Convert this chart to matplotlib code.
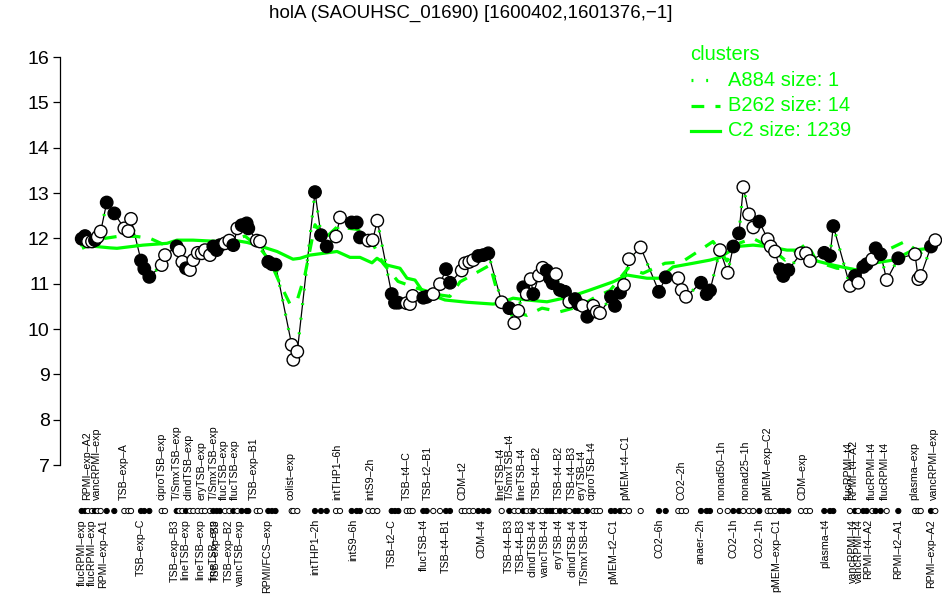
import matplotlib
matplotlib.use('Agg')
import matplotlib.pyplot as plt
from matplotlib.lines import Line2D
import matplotlib.transforms as mtransforms

plt.rcParams['font.family'] = ['Liberation Sans', 'DejaVu Sans']

GREEN = '#00ff00'
W, H = 942, 595

# ---- gene expression profile (position on condition axis, log2 expression, filled marker?) ----
pos = [81.7, 85, 88, 92, 95, 97.7, 100.7, 106.7, 114.3, 124.3, 128.3, 131, 141, 144.3, 149.3,
       161.7, 165, 176.7, 179.3, 182.3, 186, 190, 193.3, 197.7, 201.7, 205, 210, 213.3, 216.7,
       220, 225, 229.3, 233.3, 237.3, 241.7, 246.7, 248.3, 256.7, 260, 268.3, 272, 275.5,
       291.7, 293.3, 297.3, 315, 321, 326.7, 336, 340, 351.7, 356.7, 360, 368.3, 372.7, 377.3,
       391.7, 395, 398.3, 406.7, 410, 412.7, 423.3, 426.7, 433.3, 440, 446, 450, 461.7, 465,
       469.3, 473.3, 478.3, 483.3, 488.3, 501.7, 509.3, 514.3, 518.3, 523.3, 526.7, 530.7,
       533.3, 539, 542.7, 546.7, 550, 552.7, 556, 560, 565, 569.3, 575, 578.3, 582.7, 587.3,
       593.3, 596.7, 600, 611, 615, 620, 624, 629, 640.7, 659, 665.7, 678.3, 681.7, 686, 701,
       706.7, 710, 720, 727.7, 733.3, 739, 743.3, 749, 753.3, 759.3, 767.7, 770.7, 775, 780,
       783.3, 788.3, 801, 806, 810, 824.3, 830, 833.3, 850, 855, 858.3, 863.3, 866.7, 872.3,
       875.7, 880.7, 886.7, 898.3, 915, 918.3, 920.7, 931, 935.3]
expr = [11.99, 12.05, 11.93, 11.93, 11.96, 12.03, 12.15, 12.79, 12.55, 12.22, 12.16, 12.43, 11.51,
        11.33, 11.15, 11.41, 11.63, 11.82, 11.73, 11.48, 11.34, 11.30, 11.52, 11.68, 11.67,
        11.74, 11.63, 11.82, 11.74, 11.85, 11.89, 11.95, 11.85, 12.22, 12.29, 12.33, 12.22,
        11.95, 11.93, 11.48, 11.43, 11.42, 9.65, 9.32, 9.50, 13.02, 12.07, 11.82, 12.04, 12.46,
        12.35, 12.35, 12.02, 11.95, 11.96, 12.39, 10.77, 10.58, 10.58, 10.57, 10.55, 10.73,
        10.69, 10.71, 10.77, 10.99, 11.32, 11.02, 11.29, 11.45, 11.48, 11.52, 11.61, 11.63,
        11.67, 10.59, 10.46, 10.13, 10.40, 10.92, 10.77, 11.10, 10.77, 11.18, 11.35, 11.29,
        11.12, 11.01, 11.21, 10.86, 10.82, 10.60, 10.66, 10.55, 10.51, 10.27, 10.51, 10.38,
        10.35, 10.71, 10.51, 10.80, 10.97, 11.54, 11.80, 10.82, 11.14, 11.12, 10.86, 10.71,
        11.02, 10.77, 10.85, 11.74, 11.24, 11.82, 12.11, 13.13, 12.53, 12.24, 12.37, 11.98,
        11.82, 11.71, 11.32, 11.17, 11.30, 11.67, 11.67, 11.50, 11.68, 11.61, 12.27, 10.95,
        11.17, 11.02, 11.37, 11.43, 11.54, 11.78, 11.65, 11.08, 11.56, 11.65, 11.10, 11.17,
        11.82, 11.96]
filled = [1, 1, 0, 0, 1, 0, 0, 1, 1, 0, 0, 0, 1, 1, 1, 0, 0, 1, 0, 0, 1, 0, 0, 0, 0, 0, 0, 1, 1,
          1, 0, 0, 1, 0, 1, 1, 1, 0, 0, 1, 1, 1, 0, 0, 0, 1, 1, 1, 0, 0, 1, 1, 1, 0, 0, 0,
          1, 1, 1, 0, 0, 0, 1, 1, 0, 0, 1, 1, 0, 0, 0, 0, 1, 1, 1, 0, 1, 0, 0, 1, 0, 0,
          1, 0, 0, 1, 1, 1, 0, 1, 1, 0, 1, 1, 0, 1, 0, 0, 0, 1, 1, 1, 0, 0, 0, 1, 1, 0, 0, 0, 1,
          1, 1, 0, 0, 1, 1, 0, 0, 0, 1, 0, 0, 0, 1, 1, 1, 0, 0, 0, 1, 1, 1, 0, 1, 0, 1, 1, 0,
          1, 1, 0, 1, 0, 0, 0, 1, 0]

# ---- cluster mean profiles ----
c2_pos = [82, 110, 117, 143, 167, 177, 193, 220, 233, 247, 260, 277, 293, 300, 310, 337, 350,
          360, 372, 377, 387, 400, 407, 415, 423, 445, 467, 493, 500, 513, 527, 547, 570, 590,
          613, 627, 647, 660, 673, 693, 710, 720, 737, 753, 767, 787, 800, 813, 833, 857, 873,
          893, 913, 930, 935]
c2_val = [11.85, 11.79, 11.78, 11.85, 11.89, 11.96, 11.96, 11.93, 11.96, 11.91, 11.83, 11.71,
          11.54, 11.56, 11.63, 11.71, 11.58, 11.58, 11.46, 11.56, 11.41, 11.34, 11.12, 11.08,
          10.82, 10.64, 10.59, 10.55, 10.57, 10.68, 10.64, 10.60, 10.71, 10.86, 11.04, 11.19,
          11.12, 11.12, 11.37, 11.45, 11.52, 11.58, 11.82, 11.85, 11.82, 11.74, 11.74, 11.52,
          11.41, 11.30, 11.45, 11.52, 11.74, 11.78, 11.90]
b262_pos = [82, 95, 105, 120, 137, 150, 165, 180, 200, 215, 230, 245, 260, 270, 280, 290, 297,
            305, 315, 325, 337, 357, 370, 383, 398, 417, 440, 450, 460, 473, 490, 500, 510, 527,
            542, 560, 580, 595, 610, 628, 643, 665, 682, 698, 713, 727, 740, 753, 770, 785, 807,
            817, 837, 860, 887, 905, 920, 933]
b262_val = [11.78, 11.90, 12.00, 12.05, 12.04, 12.00, 11.85, 11.75, 11.72, 11.85, 11.95, 12.05,
            11.78, 11.50, 11.00, 10.55, 10.62, 11.20, 12.30, 12.00, 12.25, 12.20, 12.00, 11.45,
            11.05, 10.90, 10.75, 10.72, 11.04, 11.20, 11.41, 10.60, 10.40, 10.30, 10.46, 10.38,
            10.50, 10.70, 10.85, 11.34, 11.23, 11.45, 11.48, 11.71, 11.93, 11.50, 11.90, 12.00,
            11.80, 11.52, 11.89, 11.48, 11.34, 11.30, 11.74, 11.93, 11.67, 11.82]

# ---- condition labels ----
top_labels = ['RPMI\u2013exp\u2013A2', 'vancRPMI\u2013exp', 'TSB\u2013exp\u2013A', 'ciproTSB\u2013exp',
              'T/SmxTSB\u2013exp', 'clindTSB\u2013exp', 'eryTSB\u2013exp', 'T/SmxTSB\u2013exp',
              'flucTSB\u2013exp', 'flucTSB\u2013exp', 'TSB\u2013exp\u2013B1', 'colist\u2013exp',
              'intTHP1\u20136h', 'intS9\u20132h', 'TSB\u2013t4\u2013C', 'TSB\u2013t2\u2013B1', 'CDM\u2013t2',
              'lineTSB\u2013t4', 'T/SmxTSB\u2013t4', 'lineTSB\u2013t4', 'TSB\u2013t4\u2013B2',
              'TSB\u2013t4\u2013B2', 'TSB\u2013t4\u2013B3', 'eryTSB\u2013t4', 'ciproTSB\u2013t4',
              'pMEM\u2013t4\u2013C1', 'CO2\u20132h', 'nonad50\u20131h', 'nonad25\u20131h',
              'pMEM\u2013exp\u2013C2', 'CDM\u2013exp', 'flucRPMI\u2013t4', 'RPMI\u2013t4\u2013A2',
              'flucRPMI\u2013t4', 'flucRPMI\u2013t4', 'plasma\u2013exp', 'vancRPMI\u2013exp']
top_pos = [87, 97, 124, 161.7, 176.7, 188.3, 201.7, 213.3, 223.3, 235, 253.3, 291, 337, 370,
           406.7, 428, 462.7, 500, 510, 521.7, 536.7, 558.3, 571.7, 581.7, 591.7, 625, 681.7,
           721.7, 745, 767, 802.7, 849, 853.5, 872, 885, 914, 933.5]
bot_labels = ['flucRPMI\u2013exp', 'flucRPMI\u2013exp', 'RPMI\u2013exp\u2013A1', 'TSB\u2013exp\u2013C',
              'TSB\u2013exp\u2013B3', 'lineTSB\u2013exp', 'lineTSB\u2013exp', 'lineTSB\u2013exp',
              'TSB\u2013exp\u2013B3', 'TSB\u2013exp\u2013B2', 'vancTSB\u2013exp', 'RPMI/FCS\u2013exp',
              'intTHP1\u20132h', 'intS9\u20136h', 'TSB\u2013t2\u2013C', 'flucTSB\u2013t4', 'TSB\u2013t4\u2013B1',
              'CDM\u2013t4', 'TSB\u2013t4\u2013B3', 'TSB\u2013t4\u2013B3', 'clindTSB\u2013t4',
              'vancTSB\u2013t4', 'eryTSB\u2013t4', 'clindTSB\u2013t4', 'T/SmxTSB\u2013t4',
              'pMEM\u2013t2\u2013C1', 'CO2\u20136h', 'anaer\u20132h', 'CO2\u20131h', 'CO2\u20131h',
              'pMEM\u2013exp\u2013C1', 'plasma\u2013t4', 'vancRPMI\u2013t4', 'vancRPMI\u2013t4',
              'RPMI\u2013t4\u2013A2', 'RPMI\u2013t2\u2013A1', 'RPMI\u2013exp\u2013A2']
bot_pos = [81.7, 91.7, 102.7, 141, 175, 185, 200, 213, 216, 228.3, 240, 266.7, 315, 353, 391.7,
           423.3, 446, 481.7, 509, 521, 532, 545, 558.3, 572, 585, 613.3, 659.3, 700.7, 733.3,
           759.5, 776, 825.5, 853, 859, 868, 898.3, 931.5]

y_ticks = list(range(7, 17))
title = 'holA (SAOUHSC_01690) [1600402,1601376,\u22121]'
legend_labels = ['A884 size: 1', 'B262 size: 14', 'C2 size: 1239']
legend_styles = [':', '--', '-']

# ---------------------------------------------------------------
fig = plt.figure(figsize=(W / 100, H / 100), dpi=100)
ax = fig.add_axes([60 / W, 1 - 465 / H, (W - 60) / W, (465 - 57) / H])
ax.set_xlim(60, 942)
ax.set_ylim(7, 16)

ax.plot(pos, expr, color='black', lw=0.9, zorder=2, clip_on=False)
ax.plot(c2_pos, c2_val, color=GREEN, lw=2.3, ls='-', zorder=3, clip_on=False)
ax.plot(b262_pos, b262_val, color=GREEN, lw=2.3, ls=(0, (4, 3.5)), zorder=3, clip_on=False)
ax.plot(pos, expr, color=GREEN, lw=2.3, ls=(0, (0.6, 4)), zorder=3, clip_on=False)

fc = ['black' if f else 'white' for f in filled]
ax.scatter(pos, expr, s=80, facecolors=fc, edgecolors='black', linewidths=1.0, zorder=4,
           clip_on=False)

# dot row and condition labels below the plot
trans = mtransforms.blended_transform_factory(ax.transData, fig.transFigure)
ax.scatter(pos, [1 - 511 / H] * len(pos), s=14, facecolors=fc, edgecolors='black',
           linewidths=0.7, transform=trans, clip_on=False, zorder=4)
for x, t in zip(top_pos, top_labels):
    ax.text(x, 1 - 500 / H, t, rotation=90, ha='center', va='bottom', fontsize=7.7,
            transform=trans, clip_on=False)
for x, t in zip(bot_pos, bot_labels):
    ax.text(x, 1 - 519 / H, t, rotation=90, ha='center', va='top', fontsize=7.7,
            transform=trans, clip_on=False)

for s in ['top', 'right', 'bottom']:
    ax.spines[s].set_visible(False)
ax.spines['left'].set_linewidth(0.9)
ax.set_xticks([])
ax.set_yticks(y_ticks)
ax.set_yticklabels([str(v) for v in y_ticks], fontsize=14)
ax.tick_params(axis='y', length=5, width=0.9, pad=2.5)

fig.text(0.5, 1 - 13 / H, title, ha='center', va='center', fontsize=13.5)

# legend
fig.text(690 / W, 1 - 55 / H, 'clusters', color=GREEN, ha='left', va='center', fontsize=14.5)
for i, (lab, st) in enumerate(zip(legend_labels, legend_styles)):
    yy = 1 - (80 + 25.5 * i) / H
    dash = {':': (0, (0.6, 4)), '--': (0, (4, 3.5)), '-': '-'}[st]
    fig.add_artist(Line2D([691 / W, 720 / W], [yy, yy], color=GREEN, lw=2.3, ls=dash,
                          transform=fig.transFigure))
    fig.text(728 / W, yy, lab, color=GREEN, ha='left', va='center', fontsize=14.5)

fig.savefig('out.png', dpi=100)
